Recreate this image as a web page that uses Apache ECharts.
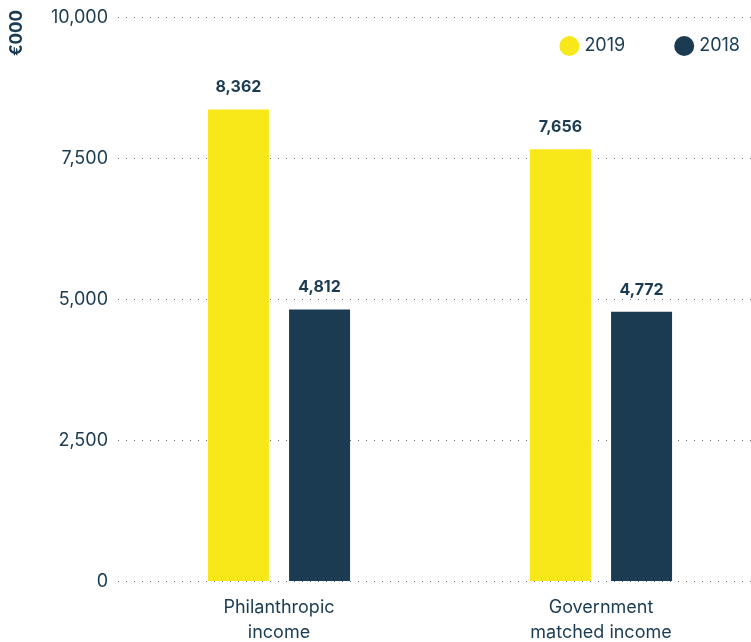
<!DOCTYPE html>
<html><head><meta charset="utf-8">
<script src="https://cdn.jsdelivr.net/npm/echarts@6/dist/echarts.min.js"></script>
<style>html,body{margin:0;padding:0;background:#fff}#c{width:751px;height:642px}</style>
</head><body><div id="c"></div>
<script>
const categories = ['Philanthropic\nincome', 'Government\nmatched income'];
const values2019 = [8362, 7656];
const values2018 = [4812, 4772];
const yTicks = [0, 2500, 5000, 7500, 10000];
const yAxisTitle = '€000';

const dark = '#1b3b52';
const yellow = '#f8e81a';
const font = 'Inter';

const chart = echarts.init(document.getElementById('c'));
chart.setOption({
  animation: false,
  textStyle: { fontFamily: font },
  legend: {
    right: 6, top: 31, itemWidth: 20, itemHeight: 20, itemGap: 49,
    icon: 'circle',
    textStyle: { color: dark, fontSize: 18, fontFamily: font },
    data: ['2019', '2018']
  },
  graphic: [{
    type: 'text', x: 17, y: 33, rotation: Math.PI / 2,
    style: { text: yAxisTitle, fill: dark, fontSize: 17, fontWeight: 'bold', fontFamily: font,
      align: 'center', verticalAlign: 'middle' }
  }],
  grid: { left: 118, right: -11, top: 17, bottom: 61, outerBoundsMode: 'none', containLabel: false },
  xAxis: {
    type: 'category', data: categories,
    axisLine: { show: false }, axisTick: { show: false },
    axisLabel: { color: dark, fontSize: 18, lineHeight: 25, margin: 14, fontFamily: font }
  },
  yAxis: {
    type: 'value', min: 0, max: 10000, interval: 2500,
    axisLabel: { color: dark, fontSize: 18, margin: 10, fontFamily: font, verticalAlign: 'top', padding: [-8, 0, 0, 0],
      formatter: v => yTicks.includes(v) ? v.toLocaleString('en-US') : '' },
    splitLine: { lineStyle: { color: '#5a6f80', type: [1, 7], width: 1.2 } }
  },
  series: [
    { name: '2019', type: 'bar', data: values2019, barWidth: 61, barGap: '33%',
      itemStyle: { color: yellow },
      label: { show: true, position: 'top', distance: 14, color: dark, fontWeight: 'bold', fontSize: 16,
        formatter: p => p.value.toLocaleString('en-US') } },
    { name: '2018', type: 'bar', data: values2018, barWidth: 61,
      itemStyle: { color: dark },
      label: { show: true, position: 'top', distance: 14, color: dark, fontWeight: 'bold', fontSize: 16,
        formatter: p => p.value.toLocaleString('en-US') } }
  ]
});
</script></body></html>
